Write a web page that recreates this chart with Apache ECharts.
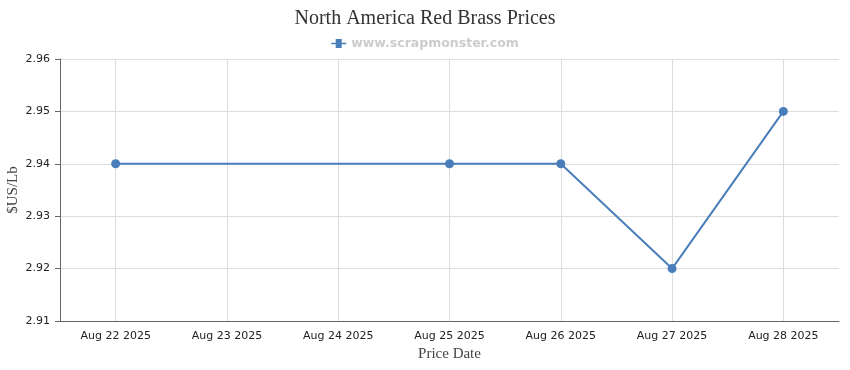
<!DOCTYPE html>
<html><head><meta charset="utf-8">
<script src="https://cdn.jsdelivr.net/npm/echarts@6/dist/echarts.min.js"></script>
<style>html,body{margin:0;padding:0;background:#fff}#c{width:850px;height:370px}</style>
</head><body><div id="c"></div>
<script>
const categories = ["Aug 22 2025","Aug 23 2025","Aug 24 2025","Aug 25 2025","Aug 26 2025","Aug 27 2025","Aug 28 2025"];
const prices = [2.94, null, null, 2.94, 2.94, 2.92, 2.95];
const seriesName = "www.scrapmonster.com";
const chartTitle = "North America Red Brass Prices";

const chart = echarts.init(document.getElementById('c'));
chart.setOption({
  animation: false,
  title: { text: chartTitle, left: 'center', top: 4,
    textStyle: { fontFamily: 'Liberation Serif', fontSize: 20, fontWeight: 'normal', color: '#333' } },
  legend: { top: 32, left: 'center', itemWidth: 15, itemHeight: 9,
    data: [{ name: seriesName, icon: 'path://M0,3.8 L4.5,3.8 L4.5,0 L10.5,0 L10.5,3.8 L15,3.8 L15,5.2 L10.5,5.2 L10.5,9 L4.5,9 L4.5,5.2 L0,5.2 Z' }],
    textStyle: { fontFamily: 'DejaVu Sans', fontSize: 12.5, fontWeight: 'bold', color: '#cccccc' } },
  grid: { left: 60, right: 11, top: 59, bottom: 49, containLabel: false, outerBoundsMode: 'none' },
  xAxis: { type: 'category', data: categories, boundaryGap: true,
    name: 'Price Date', nameLocation: 'middle', nameGap: 26, nameMoveOverlap: false,
    nameTextStyle: { fontFamily: 'Liberation Serif', fontSize: 15, color: '#444' },
    axisLine: { lineStyle: { color: '#666', width: 1 } },
    axisTick: { alignWithLabel: true, length: 5, lineStyle: { color: '#666' } },
    axisLabel: { fontFamily: 'DejaVu Sans', fontSize: 11, color: '#222', margin: 10, interval: 0 },
    splitLine: { show: true, alignWithLabel: true, lineStyle: { color: '#dddddd' } } },
  yAxis: { type: 'value', min: 2.91, max: 2.96, interval: 0.01,
    name: '$US/Lb', nameLocation: 'middle', nameGap: 39, nameMoveOverlap: false,
    nameTextStyle: { fontFamily: 'Liberation Serif', fontSize: 15, color: '#444' },
    axisLine: { show: true, lineStyle: { color: '#666' } },
    axisTick: { show: true, length: 5, lineStyle: { color: '#666' } },
    axisLabel: { fontFamily: 'DejaVu Sans', fontSize: 11, color: '#222', margin: 10,
      formatter: v => v.toFixed(2) },
    splitLine: { lineStyle: { color: '#dddddd' } } },
  series: [{ name: seriesName, type: 'line', data: prices, connectNulls: true,
    symbol: 'circle', symbolSize: 9,
    lineStyle: { color: '#4a7ebb', width: 2 },
    itemStyle: { color: '#4a7ebb' } }]
});
</script></body></html>
